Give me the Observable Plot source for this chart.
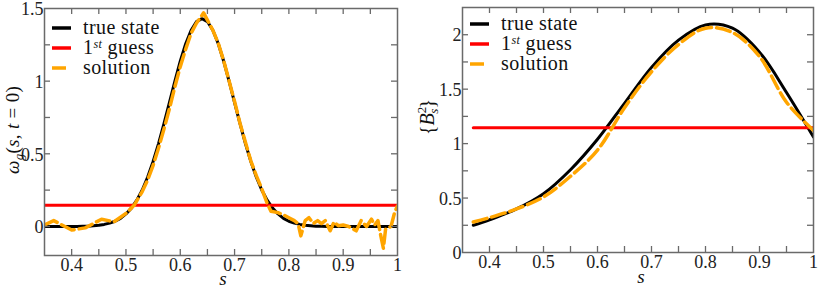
<!DOCTYPE html>
<html><head><meta charset="utf-8">
<script src="https://cdn.jsdelivr.net/npm/d3@7"></script>
<script src="https://cdn.jsdelivr.net/npm/@observablehq/plot@0.6"></script>
<style>
body{margin:0;background:#fff;}
#wrap{position:relative;width:822px;height:289px;overflow:hidden;}
.panel{position:absolute;top:0;}
#overlay{position:absolute;left:0;top:0;pointer-events:none;}
</style></head><body><div id="wrap"></div><script>
// ---------- Left panel: omega_g(s, t=0) ----------
const leftTrueS = [0.35,0.36,0.37,0.38,0.39,0.40,0.41,0.42,0.43,0.44,0.45,0.46,0.47,0.48,0.49,0.50,0.51,0.52,0.53,0.54,0.55,0.56,0.57,0.58,0.59,0.60,0.61,0.62,0.63,0.64,0.65,0.66,0.67,0.68,0.69,0.70,0.71,0.72,0.73,0.74,0.75,0.76,0.77,0.78,0.79,0.80,0.81,0.82,0.83,0.84,0.85,0.86,0.87,0.88,0.90,0.92,0.94,0.96,0.98,1.00];
const leftTrueV = [0,0,0,0,0,0,0,0.001,0.002,0.005,0.008,0.014,0.023,0.036,0.056,0.086,0.126,0.181,0.251,0.340,0.447,0.570,0.708,0.853,0.999,1.137,1.257,1.350,1.410,1.430,1.410,1.350,1.257,1.137,0.999,0.853,0.708,0.570,0.447,0.340,0.251,0.181,0.126,0.086,0.056,0.036,0.023,0.014,0.008,0.005,0.002,0.001,0,0,0,0,0,0,0,0];
const leftGuessS = [0.35, 1.00];
const leftGuessV = [0.145, 0.145];
const leftSolS = [0.35,0.367,0.40,0.425,0.455,0.478,0.50,0.515,0.53,0.54,0.55,0.56,0.57,0.58,0.59,0.60,0.61,0.62,0.63,0.643,0.65,0.66,0.67,0.68,0.69,0.70,0.71,0.72,0.73,0.74,0.75,0.76,0.767,0.78,0.79,0.80,0.81,0.817,0.822,0.83,0.837,0.845,0.853,0.86,0.867,0.876,0.883,0.891,0.90,0.91,0.924,0.933,0.943,0.952,0.958,0.964,0.969,0.974,0.978,0.988,0.995,1.00];
const leftSolV = [0.01,0.04,-0.025,-0.01,0.05,0.032,0.09,0.145,0.24,0.32,0.42,0.54,0.67,0.81,0.96,1.10,1.22,1.33,1.40,1.47,1.42,1.35,1.26,1.14,1.00,0.86,0.71,0.58,0.45,0.35,0.26,0.16,0.105,0.095,0.08,0.06,0.04,0.02,-0.065,0.04,0.06,0.02,0.04,0.02,0.04,-0.03,0.03,0.005,0.01,0.0,-0.03,0.04,0.0,0.05,0.01,0.04,-0.06,-0.15,-0.02,0.0,0.1,0.14];

// ---------- Right panel: {B_s^2} ----------
const rightTrueS = [0.37,0.40,0.45,0.50,0.55,0.60,0.65,0.70,0.75,0.80,0.85,0.90,0.95,1.00];
const rightTrueV = [0.25,0.30,0.40,0.54,0.76,1.04,1.37,1.70,1.95,2.09,2.06,1.84,1.47,1.06];
const rightGuessS = [0.37, 1.00];
const rightGuessV = [1.145, 1.145];
const rightSolS = [0.37,0.40,0.45,0.50,0.55,0.60,0.65,0.70,0.75,0.80,0.85,0.90,0.95,1.00];
const rightSolV = [0.28,0.32,0.40,0.51,0.70,0.94,1.33,1.66,1.91,2.06,2.02,1.80,1.38,1.12];

// ---------- Ticks ----------
const xTicks = [0.4,0.5,0.6,0.7,0.8,0.9,1];
const xTickLabels = ["0.4","0.5","0.6","0.7","0.8","0.9","1"];
const xMinor = [0.4,0.45,0.5,0.55,0.6,0.65,0.7,0.75,0.8,0.85,0.9,0.95];
const leftYTicks = [0,0.5,1,1.5];
const leftYTickLabels = ["0","0.5","1","1.5"];
const leftYMinor = [0,0.25,0.5,0.75,1,1.25];
const rightYTicks = [0,0.5,1,1.5,2];
const rightYTickLabels = ["0","0.5","1","1.5","2"];
const rightYMinor = [0.25,0.5,0.75,1,1.25,1.5,1.75,2];

const legendLabels = ["true state", "1st guess", "solution"];

const zip = (S, V) => S.map((s, i) => ({s, v: V[i]}));
const C_TRUE = "#000000", C_GUESS = "#ff0000", C_SOL = "#ffa500", C_AX = "#6a6a6a";
const DASH = "14,5";
const FONT = "'Liberation Serif', 'DejaVu Serif', serif";
const TL = 6; // inward tick length, px

function panel({xDomain, yDomain, yTicks, yTickLabels, yMinor, trueD, guessD, solD, curve, margins}) {
  const W = 411, H = 289;
  const iw = W - margins.marginLeft - margins.marginRight;
  const ih = H - margins.marginTop - margins.marginBottom;
  const [x0, x1] = xDomain, [y0, y1] = yDomain;
  const dyT = (y1 - y0) * TL / ih;   // tick length expressed in y units
  const dxT = (x1 - x0) * TL / iw;   // tick length expressed in x units
  const fmt = (ticks, labels) => (d) => labels[ticks.indexOf(d)] ?? "";
  const tk = {stroke: C_AX, strokeWidth: 1.3};
  return Plot.plot({
    width: W, height: H, ...margins,
    style: {fontFamily: FONT, fontSize: "18px", color: "#222", background: "transparent", overflow: "visible"},
    x: {domain: xDomain, label: null},
    y: {domain: yDomain, label: null},
    marks: [
      Plot.line(trueD, {x: "s", y: "v", stroke: C_TRUE, strokeWidth: 3, curve, clip: true}),
      Plot.line(guessD, {x: "s", y: "v", stroke: C_GUESS, strokeWidth: 3, clip: true}),
      Plot.line(solD, {x: "s", y: "v", stroke: C_SOL, strokeWidth: 3.5, strokeDasharray: DASH, curve, clip: true}),
      Plot.frame({stroke: C_AX, strokeWidth: 1.5}),
      // inward ticks on all four sides
      Plot.ruleX(xMinor, {x: d => d, y1: y0, y2: y0 + dyT, ...tk}),
      Plot.ruleX(xMinor, {x: d => d, y1: y1, y2: y1 - dyT, ...tk}),
      Plot.ruleY(yMinor, {y: d => d, x1: x0, x2: x0 + dxT, ...tk}),
      Plot.ruleY(yMinor, {y: d => d, x1: x1, x2: x1 - dxT, ...tk}),
      Plot.axisX(xTicks, {anchor: "bottom", tickSize: 0, tickPadding: 3, tickFormat: fmt(xTicks, xTickLabels), label: null}),
      Plot.axisY(yTicks, {anchor: "left", tickSize: 0, tickPadding: 1, dy: 1, tickFormat: fmt(yTicks, yTickLabels), label: null})
    ]
  });
}

const wrap = document.getElementById("wrap");
const left = panel({
  xDomain: [0.35, 1], yDomain: [-0.2, 1.5], yTicks: leftYTicks, yTickLabels: leftYTickLabels, yMinor: leftYMinor,
  trueD: zip(leftTrueS, leftTrueV), guessD: zip(leftGuessS, leftGuessV), solD: zip(leftSolS, leftSolV),
  curve: "linear",
  margins: {marginLeft: 44, marginRight: 14, marginTop: 8, marginBottom: 34}
});
left.classList.add("panel"); left.style.left = "0px";
const right = panel({
  xDomain: [0.35, 1], yDomain: [0, 2.25], yTicks: rightYTicks, yTickLabels: rightYTickLabels, yMinor: rightYMinor,
  trueD: zip(rightTrueS, rightTrueV), guessD: zip(rightGuessS, rightGuessV), solD: zip(rightSolS, rightSolV),
  curve: "catmull-rom",
  margins: {marginLeft: 51, marginRight: 9, marginTop: 7, marginBottom: 37}
});
right.classList.add("panel"); right.style.left = "411px";
wrap.appendChild(left); wrap.appendChild(right);

// ---------- Overlay: legends and axis titles ----------
function legend(x0, y0) {
  const cols = [C_TRUE, C_GUESS, C_SOL];
  return legendLabels.map((lab, i) => {
    const y = y0 + i * 20;
    const dash = i === 2 ? ` stroke-dasharray="${DASH}"` : "";
    let txt = lab;
    if (lab === "1st guess") txt = `1<tspan dy="-6" font-size="12" font-style="italic">st</tspan><tspan dy="6"> guess</tspan>`;
    return `<line x1="${x0}" x2="${x0 + 19}" y1="${y}" y2="${y}" stroke="${cols[i]}" stroke-width="3.5"${dash}/>` +
      `<text x="${x0 + 31}" y="${y + 5.5}" font-size="20" letter-spacing="0.4">${txt}</text>`;
  }).join("");
}
const ov = `<svg id="overlay" width="822" height="289" style="font-family:${FONT}" fill="#111">
${legend(52, 28)}
${legend(470, 24)}
<text x="223" y="285" font-size="19" font-style="italic" text-anchor="middle">s</text>
<text x="641" y="283" font-size="19" font-style="italic" text-anchor="middle">s</text>
<text transform="translate(19,130) rotate(-90)" font-size="19" letter-spacing="0.3" text-anchor="middle"><tspan font-style="italic">ω</tspan><tspan font-size="13" dy="4" font-style="italic">g</tspan><tspan dy="-4">(</tspan><tspan font-style="italic">s</tspan>, <tspan font-style="italic">t</tspan> = 0)</text>
<text transform="translate(434,117) rotate(-90)" font-size="20" text-anchor="middle">{<tspan font-style="italic">B</tspan><tspan font-size="13" dy="-8">2</tspan><tspan font-size="13" dx="-7" dy="12" font-style="italic">s</tspan><tspan dy="-4">}</tspan></text>
</svg>`;
wrap.insertAdjacentHTML("beforeend", ov);
</script></body></html>
